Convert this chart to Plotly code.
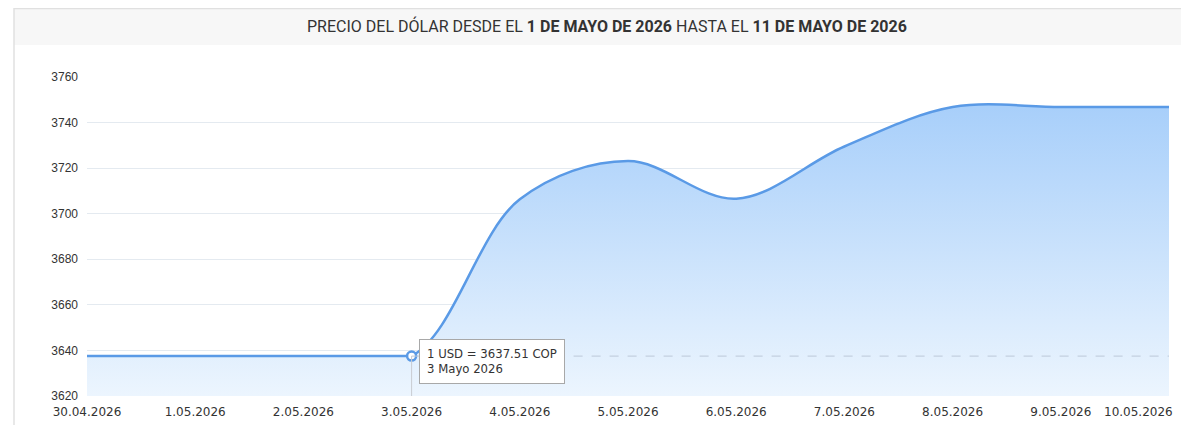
import plotly.graph_objects as go
from datetime import date

dates = ["2026-04-30", "2026-05-01", "2026-05-02", "2026-05-03", "2026-05-04", "2026-05-05",
         "2026-05-06", "2026-05-07", "2026-05-08", "2026-05-09", "2026-05-10"]
values = [3637.51, 3637.51, 3637.51, 3637.51, 3706.3, 3723.1, 3706.6, 3729.5, 3746.8, 3746.8, 3746.8]
tick_labels = ["30.04.2026", "1.05.2026", "2.05.2026", "3.05.2026", "4.05.2026", "5.05.2026",
               "6.05.2026", "7.05.2026", "8.05.2026", "9.05.2026", "10.05.2026"]
y_ticks = [3620, 3640, 3660, 3680, 3700, 3720, 3740, 3760]
hover_idx = 3
hover_text = "1 USD = 3637.51 COP<br>3 Mayo 2026"
title_html = ("PRECIO DEL DÓLAR DESDE EL <b>1 DE MAYO DE 2026</b> HASTA EL "
              "<b>11 DE MAYO DE 2026</b>")

# flat part (before the rise) drawn straight, rest drawn as a smooth spline
split_idx = 3

OFF = 8  # page body margin
W, H = 1189 - OFF, 425 - OFF
ML, MR, MT, MB = 79, 20, 69, 29
PW, PH = W - ML - MR, H - MT - MB


def px_x(p):  # page pixel -> paper
    return (p - OFF - ML) / PW


def px_y(p):
    return (H - MB - (p - OFF)) / PH


d0 = date.fromisoformat(dates[0])
dn = date.fromisoformat(dates[-1])
ds = date.fromisoformat(dates[split_idx])
split_frac = (ds - d0).days / (dn - d0).days

LINE = "#5a9ae6"
TEXT = "#333333"
grad = dict(type="vertical", start=y_ticks[0], stop=max(values),
            colorscale=[[0, "rgb(236,245,254)"], [1, "rgb(168,207,250)"]])

fig = go.Figure()
# flat part
fig.add_trace(go.Scatter(
    x=dates[:split_idx + 1], y=values[:split_idx + 1], mode="lines",
    line=dict(color=LINE, width=2.5, shape="linear"),
    fill="tozeroy", fillgradient=grad, hoverinfo="skip", showlegend=False,
))
# full spline, shown only from the split date onward (clipped by x2 domain)
fig.add_trace(go.Scatter(
    x=dates, y=values, mode="lines", xaxis="x2", yaxis="y",
    line=dict(color=LINE, width=2.5, shape="spline", smoothing=1.0),
    fill="tozeroy", fillgradient=grad, hoverinfo="skip", showlegend=False,
))

# crosshair lines
fig.add_shape(type="line", xref="x", yref="y", x0=dates[hover_idx], x1=dates[hover_idx],
              y0=y_ticks[0], y1=values[hover_idx], line=dict(color="#c8ccd2", width=1))
fig.add_shape(type="line", xref="x", yref="y", x0=dates[hover_idx], x1=dates[-1],
              y0=values[hover_idx], y1=values[hover_idx],
              line=dict(color="#bcc8d8", width=1, dash="dash"))

fig.add_trace(go.Scatter(
    x=[dates[hover_idx]], y=[values[hover_idx]], mode="markers", xaxis="x2", yaxis="y",
    cliponaxis=False,
    marker=dict(size=9, color="white", line=dict(color=LINE, width=2.5)),
    hoverinfo="skip", showlegend=False,
))

# tooltip
fig.add_annotation(x=dates[hover_idx], y=values[hover_idx], xref="x", yref="y",
                   text=hover_text, showarrow=False, xanchor="left", yanchor="top",
                   xshift=7, yshift=17, align="left",
                   font=dict(family="DejaVu Sans", size=11.7, color=TEXT),
                   bgcolor="white", bordercolor="#a8a8a8", borderwidth=1, borderpad=7)

# frame / title band
fig.add_shape(type="rect", xref="paper", yref="paper", layer="below",
              x0=px_x(14), x1=px_x(1195), y0=px_y(45), y1=px_y(7),
              fillcolor="#f7f7f7", line=dict(width=0))
fig.add_shape(type="line", xref="paper", yref="paper",
              x0=px_x(14), x1=px_x(1195), y0=px_y(8.5), y1=px_y(8.5),
              line=dict(color="#e0e0e0", width=1.5))
fig.add_shape(type="line", xref="paper", yref="paper",
              x0=px_x(14), x1=px_x(14), y0=px_y(8), y1=px_y(430),
              line=dict(color="#e0e0e0", width=1.5))
fig.add_annotation(xref="paper", yref="paper", x=px_x(607), y=px_y(26),
                   text=title_html, showarrow=False, xanchor="center", yanchor="middle",
                   font=dict(family="Roboto", size=16, color=TEXT))

# last x label shifted to stay inside the page
fig.add_annotation(x=dates[-1], y=0, xref="x", yref="paper", yanchor="top",
                   xanchor="right", xshift=6, yshift=-7, text=tick_labels[-1],
                   showarrow=False, font=dict(family="DejaVu Sans", size=12, color=TEXT))

fig.update_layout(
    width=W, height=H,
    margin=dict(l=ML, r=MR, t=MT, b=MB, autoexpand=False),
    paper_bgcolor="white", plot_bgcolor="rgba(0,0,0,0)",
    xaxis=dict(range=[dates[0], dates[-1]], tickvals=dates[:-1], ticktext=tick_labels[:-1],
               domain=[0, 1], automargin=False,
               showgrid=False, zeroline=False, showline=False, ticks="",
               ticklabelstandoff=7,
               tickfont=dict(family="DejaVu Sans", size=12, color=TEXT)),
    xaxis2=dict(range=[dates[split_idx], dates[-1]], domain=[split_frac, 1], anchor="y",
                visible=False, showgrid=False, zeroline=False, automargin=False),
    yaxis=dict(range=[y_ticks[0], y_ticks[-1]], tickvals=y_ticks, automargin=False,
               showgrid=True, gridcolor="#e4eaf0", gridwidth=1, zeroline=False,
               showline=False, ticks="", ticklabelstandoff=8,
               tickfont=dict(family="Liberation Sans", size=12, color=TEXT)),
)

fig.write_html("out.html")
